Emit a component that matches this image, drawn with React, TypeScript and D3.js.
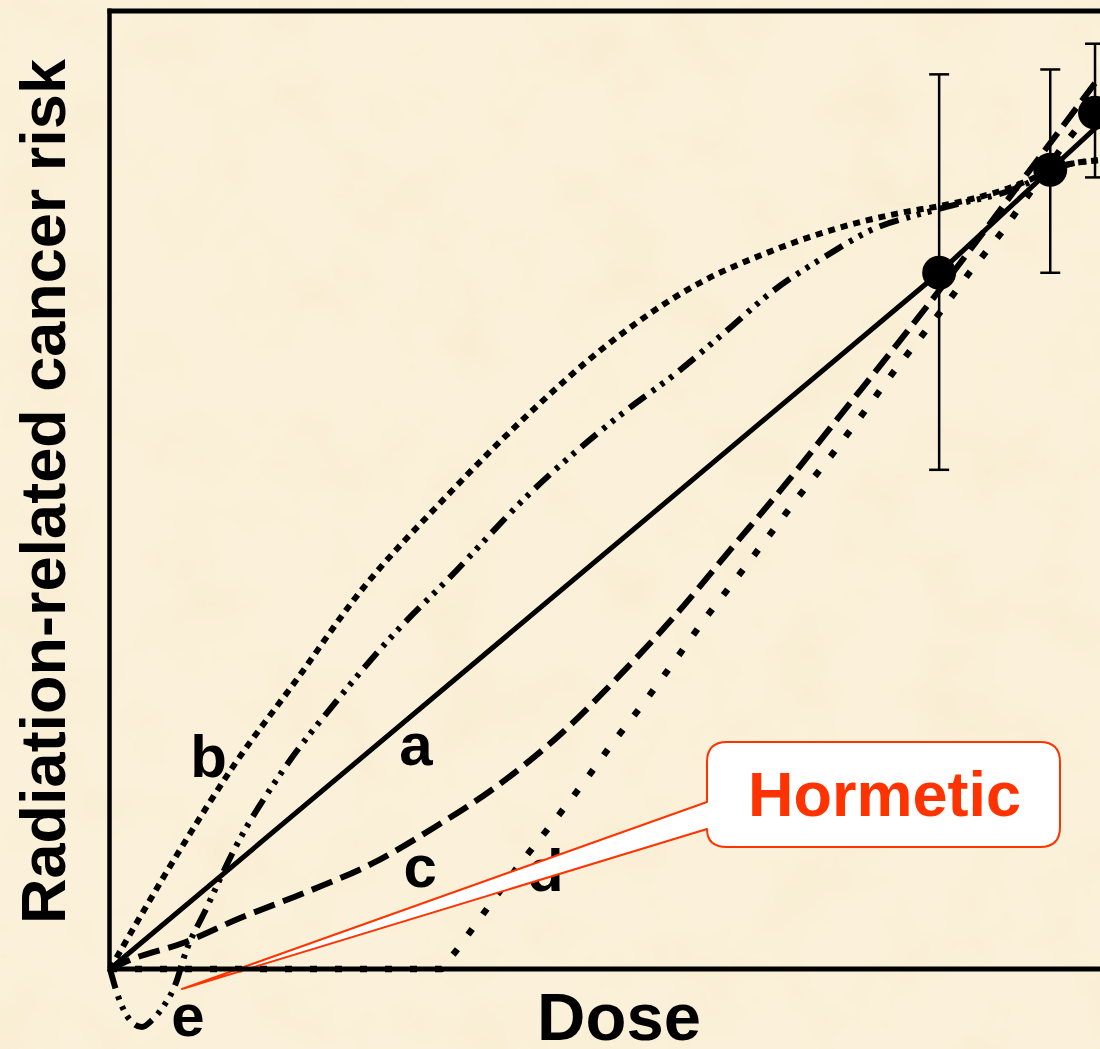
import React from 'react';
import * as d3 from 'd3';

const W = 1100;
const H = 1049;

// ---- data (dose, radiation-related risk; arbitrary units, point 1 = 1,1) ----
const pointDose = [1.0, 1.134, 1.188];
const pointRisk = [1.0, 1.148, 1.23];
const pointUpper = [1.285, 1.292, 1.329];
const pointLower = [0.717, 1.0, 1.137];

// a: linear
const curveA: [number, number][] = [[0, 0], [1.0, 1.0], [1.134, 1.148], [1.194, 1.214]];
// b: supralinear
const curveB: [number, number][] = [
  [0, 0], [0.0844, 0.171], [0.148, 0.29], [0.229, 0.422], [0.292, 0.527], [0.41, 0.684],
  [0.51, 0.803], [0.595, 0.892], [0.712, 0.986], [0.793, 1.029], [0.872, 1.062],
  [0.953, 1.086], [1.01, 1.098], [1.11, 1.134], [1.134, 1.148], [1.194, 1.162],
];
// c: linear-quadratic
const curveC: [number, number][] = [
  [0, 0], [0.0241, 0.0129], [0.0881, 0.0374], [0.157, 0.0733], [0.238, 0.111], [0.317, 0.152],
  [0.392, 0.204], [0.467, 0.263], [0.545, 0.339], [0.615, 0.422], [0.684, 0.511],
  [0.748, 0.602], [0.811, 0.691], [0.872, 0.782], [1.001, 0.976], [1.101, 1.134], [1.194, 1.282],
];
// d: threshold
const curveD: [number, number][] = [
  [0, 0], [0.4, 0], [0.42, 0.03], [0.458, 0.092], [0.495, 0.152], [0.534, 0.21], [0.571, 0.267],
  [0.607, 0.326], [0.645, 0.384], [0.682, 0.444], [0.718, 0.504], [0.756, 0.562], [0.794, 0.621],
  [0.83, 0.678], [0.869, 0.736], [0.907, 0.796], [0.944, 0.856], [1.001, 0.943], [1.037, 1.001],
  [1.076, 1.059], [1.112, 1.119], [1.148, 1.18], [1.194, 1.249],
];
// e: hormetic
const curveE: [number, number][] = [
  [0, 0], [0.0084, -0.0345], [0.0241, -0.0733], [0.0386, -0.0833], [0.0507, -0.0733],
  [0.0639, -0.0546], [0.0808, -0.0158], [0.0881, 0.0129], [0.117, 0.089], [0.151, 0.174],
  [0.209, 0.286], [0.274, 0.386], [0.347, 0.487], [0.407, 0.559], [0.507, 0.684], [0.619, 0.799],
  [0.683, 0.856], [0.741, 0.914], [0.802, 0.976], [0.862, 1.023], [0.925, 1.065], [0.973, 1.083],
  [1.01, 1.095], [1.11, 1.131], [1.134, 1.148], [1.194, 1.162],
];

const curveNames = ['a', 'b', 'c', 'd', 'e'];
const labelDose = [0.369, 0.119, 0.374, 0.525, 0.094];
const labelRisk = [0.293, 0.276, 0.118, 0.112, -0.096];

const xTitle = 'Dose';
const yTitle = 'Radiation-related cancer risk';
const calloutText = 'Hormetic';

const FONT = "Arial, 'Liberation Sans', Helvetica, sans-serif";
const RED = '#FF3300';

export default function App() {
  const x = d3.scaleLinear().domain([0, 1.194]).range([110, 1100]);
  const y = d3.scaleLinear().domain([0, 1.376]).range([969, 11]);

  const smooth = d3.line<[number, number]>().x(d => x(d[0])).y(d => y(d[1])).curve(d3.curveMonotoneX);
  const straight = d3.line<[number, number]>().x(d => x(d[0])).y(d => y(d[1]));

  const curves = [
    { d: straight(curveA), dash: undefined, w: 5 },
    { d: smooth(curveB), dash: '7 6', w: 6 },
    { d: smooth(curveC), dash: '22 9', w: 6 },
    { d: straight(curveD), dash: '7 18', w: 6.5 },
    { d: smooth(curveE), dash: '20 8 4 7 4 7 4 8', w: 6 },
  ];

  // callout geometry
  const bx0 = 707, bx1 = 1060, by0 = 742, by1 = 847, r = 20;
  const tipX = 182, tipY = 989;
  const callout = `M ${bx0 + r},${by0} H ${bx1 - r} Q ${bx1},${by0} ${bx1},${by0 + r} V ${by1 - r} Q ${bx1},${by1} ${bx1 - r},${by1} H ${bx0 + r} Q ${bx0},${by1} ${bx0},${by1 - 18} L ${tipX},${tipY} L ${bx0},802 V ${by0 + r} Q ${bx0},${by0} ${bx0 + r},${by0} Z`;

  return (
    <svg width={W} height={H} style={{ position: 'absolute', left: 0, top: 0, display: 'block' }}>
      <defs>
        <filter id="paper" x="0" y="0" width="1" height="1">
          <feTurbulence type="fractalNoise" baseFrequency="0.012" numOctaves={4} seed={7} result="noise" />
          <feColorMatrix in="noise" type="matrix"
            values="0 0 0 0 0.93  0 0 0 0 0.84  0 0 0 0 0.62  1.6 0 0 0 -0.72" />
        </filter>
      </defs>
      <rect width={W} height={H} fill="#FBF1DA" />
      <rect width={W} height={H} fill="#fff" filter="url(#paper)" />

      {curves.map((c, i) => (
        <path key={i} d={c.d || ''} fill="none" stroke="#000" strokeWidth={c.w}
          strokeDasharray={c.dash} strokeLinejoin="round" />
      ))}

      {curveNames.map((n, i) => (
        <text key={n} x={x(labelDose[i])} y={y(labelRisk[i])} textAnchor="middle"
          fontFamily={FONT} fontWeight="bold" fontSize={60} fill="#000">{n}</text>
      ))}

      <path d={callout} fill="#fff" stroke={RED} strokeWidth={2} strokeLinejoin="round" />
      <text x={(bx0 + bx1) / 2 + 1} y={816} textAnchor="middle" fontFamily={FONT} fontWeight="bold"
        fontSize={63} fill={RED}>{calloutText}</text>

      {/* frame */}
      <line x1={x(0)} x2={W} y1={y(0)} y2={y(0)} stroke="#000" strokeWidth={5} />
      <line x1={x(0) - 0.5} x2={x(0) - 0.5} y1={y(1.376) - 2.5} y2={y(0) + 2.5} stroke="#000" strokeWidth={4.5} />
      <line x1={x(0) - 2.5} x2={W} y1={y(1.376)} y2={y(1.376)} stroke="#000" strokeWidth={5} />

      {pointDose.map((dv, i) => (
        <g key={i} stroke="#000" strokeWidth={2.5}>
          <line x1={x(dv)} x2={x(dv)} y1={y(pointUpper[i])} y2={y(pointLower[i])} />
          <line x1={x(dv) - 10} x2={x(dv) + 10} y1={y(pointUpper[i])} y2={y(pointUpper[i])} />
          <line x1={x(dv) - 10} x2={x(dv) + 10} y1={y(pointLower[i])} y2={y(pointLower[i])} />
        </g>
      ))}
      {pointDose.map((dv, i) => (
        <circle key={i} cx={x(dv)} cy={y(pointRisk[i])} r={17} fill="#000" />
      ))}

      <text x={619} y={1040} textAnchor="middle" fontFamily={FONT} fontWeight="bold" fontSize={67} fill="#000">{xTitle}</text>
      <text transform="translate(65,491.5) rotate(-90)" textAnchor="middle" fontFamily={FONT}
        fontWeight="bold" fontSize={63} fill="#000">{yTitle}</text>
    </svg>
  );
}
